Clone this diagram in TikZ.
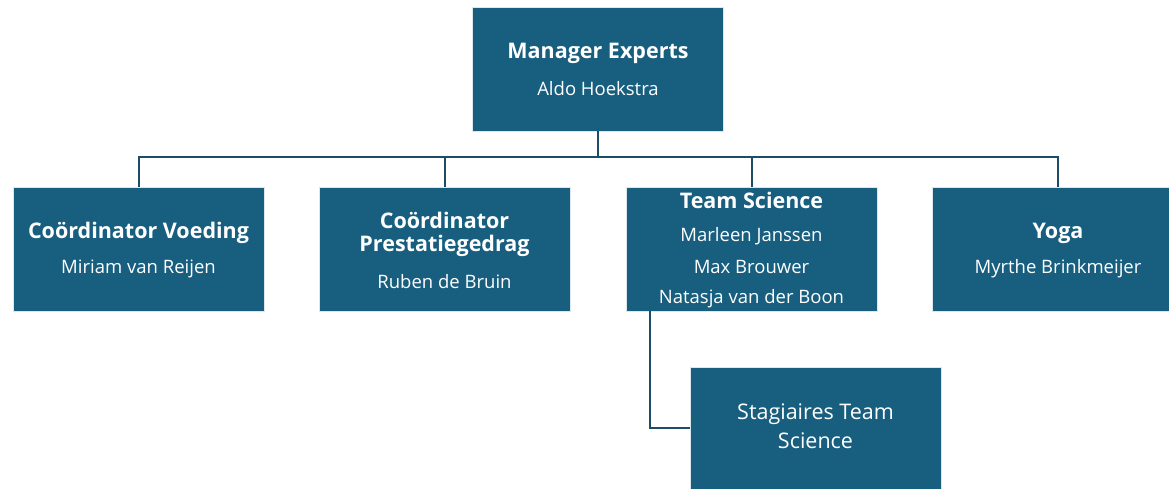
\documentclass[tikz,border=0pt]{standalone}
\usepackage{fontspec}
\setmainfont{Open Sans}
\definecolor{boxfill}{HTML}{175E7F}
\definecolor{linecol}{HTML}{1D4D66}
\begin{document}
\begin{tikzpicture}[x=1pt,y=-1pt,
  orgbox/.style={draw=white!85!boxfill, line width=0.6pt, fill=boxfill, minimum width=251pt, minimum height=124pt, inner sep=0pt},
  ttl/.style={text=white, font=\fontsize{21.5}{24}\selectfont\bfseries, inner sep=0pt, align=center},
  nm/.style={text=white, font=\fontsize{18.5}{21}\selectfont, inner sep=0pt, align=center},
  conn/.style={draw=linecol, line width=2pt}]
\useasboundingbox (0,0) rectangle (1169,489);
\clip (0,0) rectangle (1169,489);
\fill[white] (0,0) rectangle (1169,489);
% boxes
\node[orgbox] (mgr) at (598,69) {};
\node[orgbox] (voe) at (138.5,249) {};
\node[orgbox] (pre) at (444.5,249) {};
\node[orgbox] (ts) at (751.5,249) {};
\node[orgbox] (yog) at (1058,249) {};
\node[orgbox, minimum height=122pt] (stg) at (815.5,428) {};
% connectors
\coordinate (bus) at (598,157);
\draw[conn] (mgr.south) -- (bus);
\draw[conn] (voe.north) |- (bus);
\draw[conn] (pre.north) |- (bus);
\draw[conn] (ts.north) |- (bus);
\draw[conn] (yog.north) |- (bus);
\coordinate (tsdrop) at (650,311);
\draw[conn] (tsdrop) |- (stg.west);
% texts
\node[ttl] (t1) at (598,53) {Manager Experts};
\node[nm] (n1) at (598,89) {Aldo Hoekstra};
\node[ttl] (t2) at (138.5,233) {Coördinator Voeding};
\node[nm] (n2) at (138.5,269) {Miriam van Reijen};
\node[ttl] (t3a) at (444.5,220) {Coördinator};
\node[ttl] (t3b) at (444.5,246) {Prestatiegedrag};
\node[nm] (n3) at (444.5,282) {Ruben de Bruin};
\node[ttl] (t4) at (751.5,200) {Team Science};
\node[nm] (n4a) at (751.5,236) {Marleen Janssen};
\node[nm] (n4b) at (751.5,267) {Max Brouwer};
\node[nm] (n4c) at (751.5,299) {Natasja van der Boon};
\node[ttl] (t5) at (1058,233) {Yoga};
\node[nm] (n5) at (1058,269) {Myrthe Brinkmeijer};
\node[nm, font=\fontsize{21.5}{24}\selectfont] (t6a) at (815.5,414) {Stagiaires Team};
\node[nm, font=\fontsize{21.5}{24}\selectfont] (t6b) at (815.5,441) {Science};
\end{tikzpicture}
\end{document}
